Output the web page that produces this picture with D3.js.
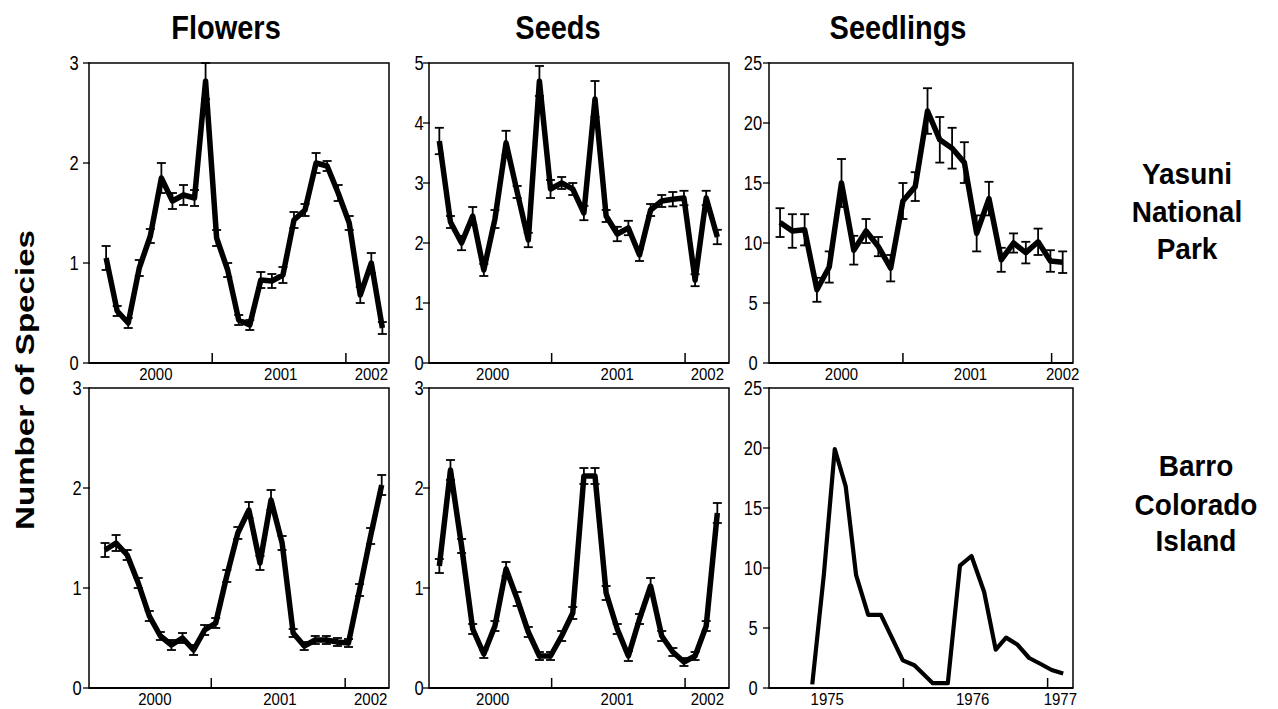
<!DOCTYPE html>
<html><head><meta charset="utf-8">
<script src="https://cdn.jsdelivr.net/npm/d3@7"></script>
<style>
body{margin:0;background:#fff;}
svg{display:block;}
text{font-family:"Liberation Sans",Arial,Helvetica,sans-serif;fill:#000;}
</style>
</head><body>
<svg id="chart" width="1278" height="709"></svg>
<script>
// ---------- DATA ----------
const columnTitles = ["Flowers", "Seeds", "Seedlings"];
const rowLabels = [["Yasuni", "National", "Park"], ["Barro", "Colorado", "Island"]];
const yAxisTitle = "Number of Species";

const months26 = [0,1,2,3,4,5,6,7,8,9,10,11,12,13,14,15,16,17,18,19,20,21,22,23,24,25];
const months24 = [0,1,2,3,4,5,6,7,8,9,10,11,12,13,14,15,16,17,18,19,20,21,22,23];

// Yasuni National Park
const flowersYasuni    = [1.05,0.52,0.40,0.95,1.27,1.85,1.62,1.68,1.65,2.82,1.25,0.93,0.43,0.38,0.83,0.82,0.88,1.43,1.53,2.00,1.97,1.70,1.40,0.68,1.00,0.35];
const flowersYasuniErr = [0.12,0.05,0.05,0.08,0.07,0.15,0.08,0.10,0.08,0.18,0.08,0.07,0.05,0.05,0.08,0.07,0.08,0.08,0.06,0.10,0.05,0.08,0.07,0.08,0.10,0.06];

const seedsYasuni    = [3.70,2.35,2.00,2.45,1.55,2.40,3.67,2.85,2.05,4.70,2.90,3.00,2.90,2.50,4.40,2.45,2.15,2.25,1.80,2.55,2.70,2.73,2.75,1.38,2.75,2.10];
const seedsYasuniErr = [0.22,0.10,0.12,0.15,0.10,0.15,0.20,0.10,0.12,0.25,0.15,0.10,0.10,0.12,0.30,0.10,0.12,0.12,0.10,0.10,0.10,0.12,0.12,0.10,0.12,0.12];

const seedlingsYasuni    = [11.7,11.0,11.1,6.1,8.0,15.0,9.4,11.0,9.7,7.9,13.5,14.7,21.0,18.6,17.9,16.7,10.8,13.7,8.6,10.0,9.2,10.1,8.5,8.4];
const seedlingsYasuniErr = [1.2,1.4,1.3,1.0,1.3,2.0,1.2,1.0,0.8,1.1,1.5,1.2,1.9,1.9,1.7,1.7,1.5,1.4,1.0,0.8,0.9,1.1,0.9,0.9];

// Barro Colorado Island
const flowersBCI    = [1.38,1.45,1.33,1.05,0.72,0.52,0.43,0.50,0.38,0.58,0.65,1.12,1.55,1.78,1.25,1.88,1.45,0.55,0.42,0.48,0.48,0.46,0.45,0.98,1.52,2.03];
const flowersBCIErr = [0.07,0.08,0.05,0.05,0.05,0.04,0.05,0.05,0.05,0.05,0.05,0.06,0.06,0.08,0.07,0.10,0.07,0.04,0.04,0.04,0.04,0.04,0.04,0.06,0.08,0.10];

const seedsBCI    = [1.22,2.18,1.42,0.59,0.34,0.62,1.19,0.89,0.56,0.32,0.32,0.52,0.75,2.12,2.12,0.95,0.59,0.32,0.69,1.02,0.52,0.36,0.26,0.32,0.62,1.75];
const seedsBCIErr = [0.07,0.10,0.07,0.05,0.04,0.05,0.07,0.07,0.05,0.04,0.04,0.05,0.06,0.08,0.08,0.07,0.05,0.05,0.05,0.08,0.05,0.04,0.04,0.04,0.05,0.10];

const seedlingsBCIMonth = [0,1,1.95,2.9,3.8,4.85,5.95,7.85,8.85,10.45,11.75,12.8,13.8,14.9,15.9,16.8,17.8,18.8,19.8,20.75,21.75];
const seedlingsBCI      = [0.3,9.4,19.9,16.8,9.4,6.1,6.1,2.3,1.9,0.4,0.4,10.2,11.0,8.0,3.2,4.2,3.6,2.5,2.0,1.5,1.2];

// axis ticks (in month units from first sample) and tick labels
const yearTicksCol1 = [9.6, 21.7];
const yearTicksCol2 = [10.1, 22.1];
const yearTicksCol3 = [10.0, 22.1];
const yearTicksBCISeedlings = [7.9, 20.4];
const yearLabels = ["2000", "2001", "2002"];
const yearLabelsBCISeedlings = ["1975", "1976", "1977"];
const yearLabelPosCol1 = [4.5, 15.8, 24.0];
const yearLabelPosCol2 = [4.8, 16.0, 24.1];
const yearLabelPosCol3 = [5.0, 15.5, 23.0];
const yearLabelPosBCISeedlings = [1.3, 13.9, 21.5];

const yTicks3 = [0,1,2,3];
const yTicks5 = [0,1,2,3,4,5];
const yTicks25 = [0,5,10,15,20,25];

// ---------- LAYOUT ----------
const svg = d3.select("#chart");
const colX = [89, 429, 769];
const colW = [300, 300, 304];
const rowY = [63, 388];
const panelH = 300;

const panels = [
  {col:0,row:0,x:months26,y:flowersYasuni,e:flowersYasuniErr,xd:[-1.55,25.6],ymax:3,yt:yTicks3,xt:yearTicksCol1,lab:yearLabels,labPos:yearLabelPosCol1,lw:5.5,tlx:-15},
  {col:1,row:0,x:months26,y:seedsYasuni,e:seedsYasuniErr,xd:[-0.93,26.05],ymax:5,yt:yTicks5,xt:yearTicksCol2,lab:yearLabels,labPos:yearLabelPosCol2,lw:5.5,tlx:-10},
  {col:2,row:0,x:months24,y:seedlingsYasuni,e:seedlingsYasuniErr,xd:[-0.9,23.84],ymax:25,yt:yTicks25,xt:yearTicksCol3,lab:yearLabels,labPos:yearLabelPosCol3,lw:5.5,tlx:-16},
  {col:0,row:1,x:months26,y:flowersBCI,e:flowersBCIErr,xd:[-1.45,25.66],ymax:3,yt:yTicks3,xt:yearTicksCol1,lab:yearLabels,labPos:yearLabelPosCol1,lw:5.5,tlx:-12},
  {col:1,row:1,x:months26,y:seedsBCI,e:seedsBCIErr,xd:[-0.93,26.05],ymax:3,yt:yTicks3,xt:yearTicksCol2,lab:yearLabels,labPos:yearLabelPosCol2,lw:5.5,tlx:-10},
  {col:2,row:1,x:seedlingsBCIMonth,y:seedlingsBCI,e:null,xd:[-3.75,22.6],ymax:25,yt:yTicks25,xt:yearTicksBCISeedlings,lab:yearLabelsBCISeedlings,labPos:yearLabelPosBCISeedlings,lw:4.2,tlx:-16}
];

function stretchedText(g, x, y, str, size, weight, anchor, sy){
  return g.append("text")
    .attr("transform", `translate(${x},${y}) scale(1,${sy})`)
    .attr("text-anchor", anchor)
    .style("font-size", size + "px")
    .style("font-weight", weight)
    .text(str);
}

panels.forEach(p => {
  const x0 = colX[p.col], w = colW[p.col], y0 = rowY[p.row];
  const xs = d3.scaleLinear().domain(p.xd).range([x0, x0 + w]);
  const ys = d3.scaleLinear().domain([0, p.ymax]).range([y0 + panelH, y0]);
  const g = svg.append("g");

  // frame
  g.append("rect").attr("x", x0).attr("y", y0).attr("width", w).attr("height", panelH)
    .attr("fill", "none").attr("stroke", "#000").attr("stroke-width", 1.5);
  g.append("line").attr("x1", x0).attr("x2", x0 + w).attr("y1", y0 + panelH).attr("y2", y0 + panelH)
    .attr("stroke", "#000").attr("stroke-width", 2);

  // y ticks
  p.yt.forEach(t => {
    g.append("line").attr("x1", x0 - 6).attr("x2", x0 + 1).attr("y1", ys(t)).attr("y2", ys(t))
      .attr("stroke", "#000").attr("stroke-width", 1.3);
    stretchedText(g, x0 + p.tlx, ys(t) + 7, String(t), 16.5, "normal", "middle", 1.2);
  });

  // x ticks (inward)
  p.xt.forEach(t => {
    g.append("line").attr("x1", xs(t)).attr("x2", xs(t)).attr("y1", y0 + panelH).attr("y2", y0 + panelH - 10)
      .attr("stroke", "#000").attr("stroke-width", 1.5);
  });
  // year labels
  p.lab.forEach((l, i) => {
    stretchedText(g, xs(p.labPos[i]), y0 + panelH + 17, l, 15, "normal", "middle", 1.15);
  });

  const pts = p.x.map((m, i) => ({m, v: p.y[i], e: p.e ? p.e[i] : 0}));

  // line
  const line = d3.line().x(d => xs(d.m)).y(d => ys(d.v));
  g.append("path").datum(pts).attr("d", line).attr("fill", "none")
    .attr("stroke", "#000").attr("stroke-width", p.lw).attr("stroke-linejoin", "round");

  // error bars
  if (p.e) {
    const eb = g.selectAll(".eb").data(pts).enter().append("g");
    eb.append("line").attr("x1", d => xs(d.m)).attr("x2", d => xs(d.m))
      .attr("y1", d => ys(d.v + d.e)).attr("y2", d => ys(Math.max(0, d.v - d.e)))
      .attr("stroke", "#000").attr("stroke-width", 1.8);
    [1, -1].forEach(s => {
      eb.append("line").attr("x1", d => xs(d.m) - 4.5).attr("x2", d => xs(d.m) + 4.5)
        .attr("y1", d => ys(d.v + s * d.e)).attr("y2", d => ys(d.v + s * d.e))
        .attr("stroke", "#000").attr("stroke-width", 1.8);
    });
  }
});

// column titles
const titleX = [226, 558, 898];
columnTitles.forEach((t, i) => stretchedText(svg, titleX[i], 39, t, 29, "bold", "middle", 1.12));

// row labels
const rowLabelX = [1187, 1196];
const rowLabelBase = [[184, 222, 259], [476, 515, 551]];
rowLabels.forEach((lines, r) => {
  lines.forEach((l, i) => stretchedText(svg, rowLabelX[r], rowLabelBase[r][i], l, 28, "bold", "middle", 1.08));
});

// y axis title
svg.append("text")
  .attr("transform", "translate(34,380) rotate(-90)")
  .attr("text-anchor", "middle")
  .style("font-size", "25px").style("font-weight", "bold")
  .attr("textLength", 300).attr("lengthAdjust", "spacingAndGlyphs")
  .text(yAxisTitle);
</script>
</body></html>
